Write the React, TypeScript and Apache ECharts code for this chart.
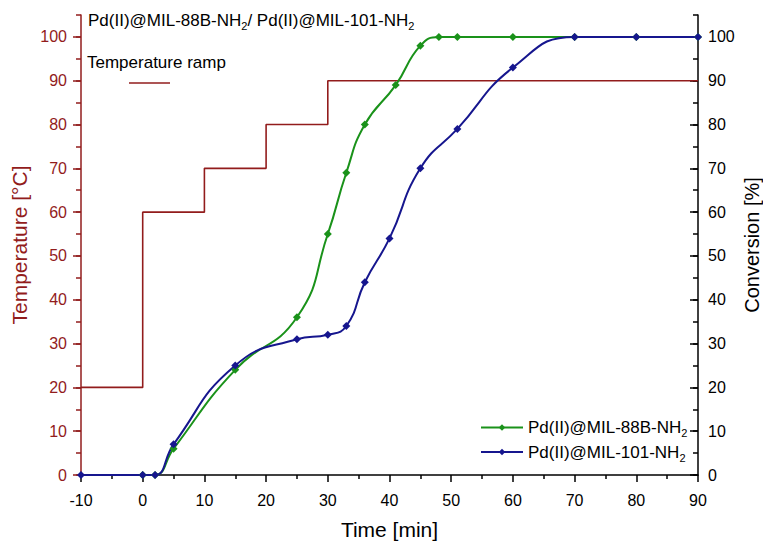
import React, { useEffect, useRef } from 'react';
import * as echarts from 'echarts';

const tempRamp: [number, number][] = [[-10, 20], [0, 60], [10, 70], [20, 80], [30, 90], [90, 90]];
const mil88Time = [0, 2, 5, 15, 25, 30, 33, 36, 41, 45, 48, 51, 60, 70, 80, 90];
const mil88Conv = [0, 0, 6, 24, 36, 55, 69, 80, 89, 98, 100, 100, 100, 100, 100, 100];
const mil101Time = [-10, 0, 2, 5, 15, 25, 30, 33, 36, 40, 45, 51, 60, 70, 80, 90];
const mil101Conv = [0, 0, 0, 7, 25, 31, 32, 34, 44, 54, 70, 79, 93, 100, 100, 100];
const majorTicks = [0, 10, 20, 30, 40, 50, 60, 70, 80, 90, 100];

const RED = '#921c1c';
const GREEN = '#1a921a';
const BLUE = '#16168e';
const FONT = 'Arial, "Liberation Sans", sans-serif';

const name88 = 'Pd(II)@MIL-88B-NH2';
const name101 = 'Pd(II)@MIL-101-NH2';

export default function App() {
  const ref = useRef<HTMLDivElement>(null);
  useEffect(() => {
    if (!ref.current) return;
    const chart = echarts.init(ref.current, null, { renderer: 'svg' });
    const rich = {
      a: { fontSize: 17, fontFamily: FONT, color: '#000', lineHeight: 22 },
      s: { fontSize: 11, fontFamily: FONT, color: '#000', lineHeight: 12, verticalAlign: 'bottom' },
    };
    const yMinor = (pos: 'left' | 'right', inside: boolean, color: string) => ({
      type: 'value', position: pos, min: 0, max: 105, interval: 5,
      axisLine: { show: false, onZero: false },
      axisTick: { show: true, inside, length: 5, lineStyle: { color, width: 1.5 } },
      axisLabel: { show: false }, splitLine: { show: false },
    });
    const yMajor = (pos: 'left' | 'right', inside: boolean, color: string, name: string, nameGap: number, nameSize: number) => ({
      type: 'value', position: pos, min: 0, max: 105, interval: 10,
      name, nameLocation: 'middle', nameGap, nameMoveOverlap: false,
      nameTextStyle: { color, fontSize: nameSize, fontFamily: FONT },
      axisLine: { show: true, onZero: false, lineStyle: { color, width: 1.5 } },
      axisTick: { show: true, inside, length: 8, customValues: majorTicks, lineStyle: { color, width: 1.5 } },
      axisLabel: { show: true, customValues: majorTicks, color, fontSize: 16, fontFamily: FONT, margin: inside ? 10 : 14 },
      splitLine: { show: false },
    });
    chart.setOption({
      animation: false,
      backgroundColor: '#fff',
      grid: { left: 81, right: 65, top: 15, bottom: 66, outerBoundsMode: 'none', containLabel: false },
      xAxis: {
        type: 'value', min: -10, max: 90, interval: 10,
        name: 'Time [min]', nameLocation: 'middle', nameGap: 44, nameMoveOverlap: false,
        nameTextStyle: { color: '#000', fontSize: 21, fontFamily: FONT },
        axisLine: { show: true, onZero: false, lineStyle: { color: '#000', width: 1.5 } },
        axisTick: { show: true, length: 7, lineStyle: { color: '#000', width: 1.5 } },
        minorTick: { show: true, splitNumber: 2, length: 4, lineStyle: { color: '#000', width: 1.5 } },
        axisLabel: { color: '#000', fontSize: 16, fontFamily: FONT, margin: 17 },
        splitLine: { show: false },
      },
      yAxis: [
        yMajor('left', false, RED, 'Temperature [°C]', 51, 21),
        yMajor('right', true, '#000', 'Conversion [%]', 44, 20),
        yMinor('left', false, RED),
        yMinor('right', true, '#000'),
      ],
      legend: {
        left: 475, top: 414, orient: 'vertical',
        itemWidth: 42, itemHeight: 8, itemGap: 5,
        data: [name88, name101],
        formatter: (n: string) => '{a|' + n.slice(0, -1) + '}{s|2}',
        textStyle: { fontSize: 17, fontFamily: FONT, color: '#000', rich },
      },
      graphic: [
        {
          type: 'text', x: 88, y: 9,
          style: {
            text: '{a|Pd(II)@MIL-88B-NH}{s|2}{a|/ Pd(II)@MIL-101-NH}{s|2}',
            rich,
          },
        },
        {
          type: 'text', x: 87, y: 62,
          style: { text: 'Temperature ramp', fontSize: 17, fontFamily: FONT, fill: '#000', verticalAlign: 'middle' },
        },
        {
          type: 'line', shape: { x1: 129, y1: 83, x2: 170, y2: 83 },
          style: { stroke: RED, lineWidth: 1.5 },
        },
      ],
      series: [
        {
          name: 'Temperature ramp', type: 'line', yAxisIndex: 0, step: 'end',
          data: tempRamp, showSymbol: false, symbol: 'none',
          lineStyle: { color: RED, width: 1.6 }, itemStyle: { color: RED },
        },
        {
          name: name88, type: 'line', yAxisIndex: 1, smooth: 0.5,
          data: mil88Time.map((t, i) => [t, mil88Conv[i]]),
          symbol: 'diamond', symbolSize: 8, showAllSymbol: true,
          lineStyle: { color: GREEN, width: 2 }, itemStyle: { color: GREEN },
        },
        {
          name: name101, type: 'line', yAxisIndex: 1, smooth: 0.5,
          data: mil101Time.map((t, i) => [t, mil101Conv[i]]),
          symbol: 'diamond', symbolSize: 8, showAllSymbol: true,
          lineStyle: { color: BLUE, width: 2 }, itemStyle: { color: BLUE },
        },
      ],
    });
    return () => chart.dispose();
  }, []);
  return <div ref={ref} style={{ width: 763, height: 541, position: 'absolute', left: 0, top: 0 }} />;
}
